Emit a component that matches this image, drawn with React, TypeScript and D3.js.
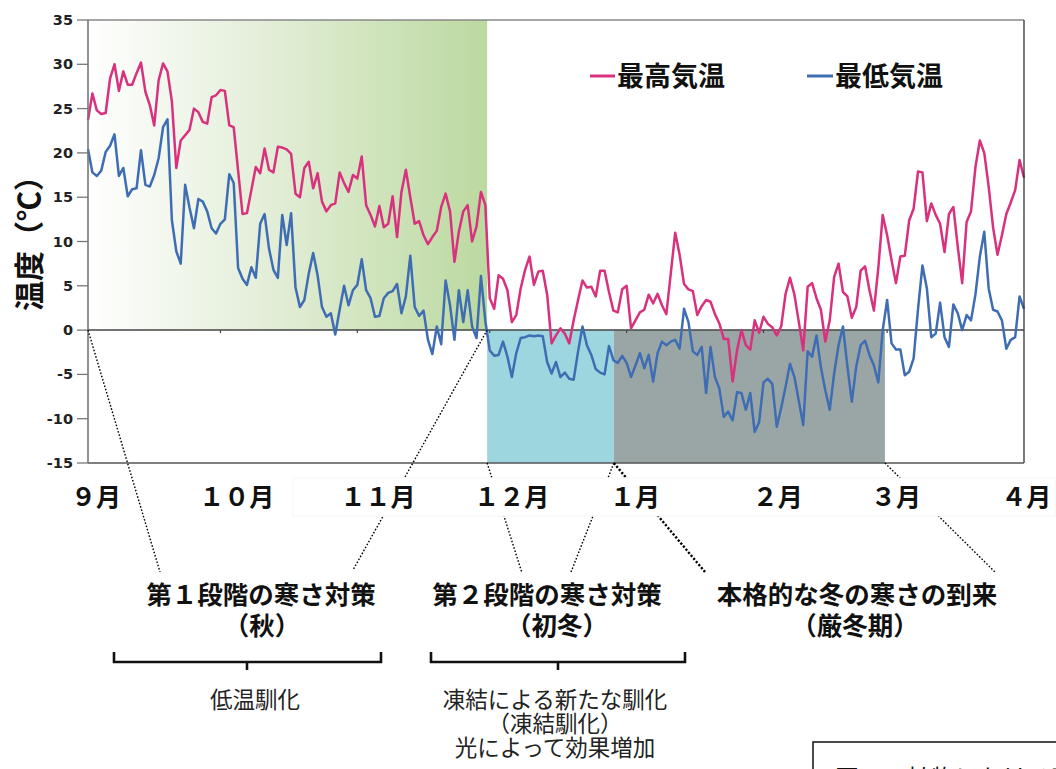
import React from "react";
import * as d3 from "d3";

// ---- data (daily, Sep 1 = day 0 .. Apr 1 = day 212) ----
const maxTemp: number[] = [
  23.7, 26.7, 24.8, 24.4, 24.5, 28.4, 30, 27, 29.2, 27.7, 27.7, 29, 30.2, 26.9, 25.4, 23.1, 28.2, 30.1, 29.2, 25.8,
  18.3, 21.4, 22, 22.6, 25, 24.6, 23.5, 23.3, 26.3, 26.5, 27.1, 27, 23.1, 22.9, 18, 13.1, 13.2, 15.8, 18.4, 17.7,
  20.5, 18.1, 17.8, 20.7, 20.6, 20.4, 19.9, 15.4, 15, 18.3, 19, 16, 17.7, 14.5, 13.4, 14.1, 14.3, 17.8, 16.6, 15.6,
  17.5, 17.1, 19.6, 14.1, 13, 11.7, 14, 11.6, 12, 15.1, 10.5, 15.6, 18.1,
  15, 12.0, 12.3, 10.7, 9.7, 10.5, 11.2, 13.9, 15.4, 13.4, 7.7, 11.1, 13.4, 14.1, 10, 11.7, 15.6, 14.1, 3.6, 2.4,
  6.2, 5.8, 4.5, 0.9, 1.7, 4.7, 6.8, 8.3, 5.1, 6.6, 6.7, 4, -1.5, -0.6, 0.2, -0.4, -1.5, 1.1, 3.4, 5.6,
  4.8, 4.9, 3.8, 6.7, 6.7, 4.3, 2.2, 2, 4.6, 5, 0.2, 1.1, 2, 2.3, 4, 3, 4.1, 2.8, 1.8, 6.4,
  11, 8.5, 5.2, 4.6, 4.4, 1.7, 2.7,
  3.4, 3.2, 1.8, 0.75, -1.0, -1.0, -5.8, -2.3, 0, -1.7, -2.2, 1.1, -0.3, 1.5, 0.7, 0.3, -0.6, 0.4, 4.1, 5.9,
  4.0, 0.9, -2.3, 4.9, 5.3, 3.6, 2.3, -1.3, 1.1, 6.0, 7.5, 4.3, 3.8, 1.4, 2.6, 6.7, 7.2, 4.5, 2.2, 7.0,
  13.0, 10.7, 7.9, 5.3, 8.3, 8.4, 12.4, 13.7, 17.9, 17.8, 12.3, 14.3, 13.0, 12.0, 8.8, 13.1, 13.9, 9.4, 5.3, 12.2,
  13.4, 18.4, 21.4, 20.0, 16.2, 11.6, 8.5, 10.7, 13.1, 14.4, 15.8, 19.2, 17.2,
];

const minTemp: number[] = [
  20.4, 17.8, 17.4, 18, 20.1, 20.8, 22.1, 17.4, 18.3, 15.1, 15.9, 16, 20.3, 16.4, 16.2, 17.5, 19.4, 22.9, 23.8, 12.4,
  8.9, 7.5, 16.4, 13.8, 11.5, 14.8, 14.5, 13.4, 11.5, 10.9, 12, 12.5, 17.6, 16.6, 7, 5.8, 5.1, 7.1, 5.9, 12,
  13.1, 9.2, 6.8, 5.9, 13, 9.6, 13.2, 4.8, 2.6, 3.4, 6.4, 8.7, 6.2, 2.6, 1.5, 1.9, -0.5, 2.3, 5, 2.8,
  4.5, 5.1, 8, 4.5, 3.6, 1.5, 1.6, 3.6, 4.2, 4.4, 5.2, 1.9, 3.8,
  8.4, 2.6, 1.6, 2.2, -1.1, -2.7, 0.4, -1.6, 5.6, 2.8, -1.1, 4.5, 0.9, 4.5, 0.4, -0.9, 6.1, 1.0, -2.3, -2.9,
  -2.8, -1.3, -3.0, -5.3, -2.6, -0.9, -0.8, -0.6, -0.7, -0.6, -0.7, -3.6, -4.9, -3.6, -5.3, -4.8, -5.5, -5.6, -2.4, 0.4,
  -1.7, -2.8, -4.4, -4.8, -5.0, -1.8, -3.4, -3.7, -2.9, -3.7, -5.3, -4.0, -2.6, -4.3, -2.8, -5.8, -2.6, -1.3, -1.7, -1.3,
  -1.1, -2.1, 2.4, 0.9, -2.4, -2.8, -1.9,
  -7.1, -1.9, -5.3, -6.6, -9.8, -9.2, -10.2, -7.0, -7.1, -9.0, -7.1, -11.5, -10.4, -5.9, -5.5, -6.1, -10.9, -8.8, -6.4, -3.8,
  -5.3, -8.0, -10.7, -2.4, -3.0, -0.6, -4.2, -6.8, -9.0, -4.9, -1.7, 0.4, -4.1, -8.1, -4.1, -1.7, -1.2, -2.8, -4.0, -5.9,
  0, 3.4, -1.5, -2.2, -2.2, -5.1, -4.7, -3.2, 2.4, 7.3, 4.7, -0.8, -0.4, 3.1, -0.8, -1.9, 2.9, 1.9, 0, 1.7,
  1.1, 4.0, 8.3, 11.1, 4.7, 2.3, 2.1, 1.1, -2.1, -1.1, -0.8, 3.8, 2.4,
];

const yTicks: number[] = [-15, -10, -5, 0, 5, 10, 15, 20, 25, 30, 35];
const monthTickDays: number[] = [0, 30, 61, 91, 122, 153, 181, 212];
const monthLabels: string[] = ["９月", "１０月", "１１月", "１２月", "１月", "２月", "３月", "４月"];
const monthLabelDays: number[] = [1.8, 33.7, 65.7, 96, 123.9, 156.2, 183, 212.5];
const seriesNames: string[] = ["最高気温", "最低気温"];

// phase boundaries (day index)
const phaseAutumn: [number, number] = [0, 90.4];
const phaseEarly: [number, number] = [90.4, 119.1];
const phaseWinter: [number, number] = [119.1, 180.5];

const annTitles: string[] = ["第１段階の寒さ対策", "第２段階の寒さ対策", "本格的な冬の寒さの到来"];
const annSubs: string[] = ["（秋）", "（初冬）", "（厳冬期）"];
const noteAutumn: string[] = ["低温馴化"];
const noteEarly: string[] = ["凍結による新たな馴化", "（凍結馴化）", "光によって効果増加"];
const captionText = "図２　植物における寒さ対策";

const W = 1056;
const H = 769;
const PINK = "#d8317e";
const BLUE = "#3f6db4";
const JP = '"Noto Sans CJK JP", "Noto Sans", sans-serif';

export default function App() {
  const x = d3.scaleLinear().domain([0, 212]).range([88, 1024]);
  const y = d3.scaleLinear().domain([-15, 35]).range([463, 20]);
  const line = d3
    .line<number>()
    .x((_, i) => x(i))
    .y((d) => y(d));

  const dotted = (x1: number, y1: number, x2: number, y2: number, w = 1.4, dash = "1.6,1.8") => (
    <line x1={x1} y1={y1} x2={x2} y2={y2} stroke="#000" strokeWidth={w} strokeDasharray={dash} />
  );

  const bracket = (x1: number, x2: number, xm: number) => (
    <path
      d={`M${x1},652 L${x1},662 L${x2},662 L${x2},652 M${xm},662 L${xm},670`}
      fill="none"
      stroke="#111"
      strokeWidth={2.6}
    />
  );

  return (
    <svg width={W} height={H} style={{ position: "absolute", left: 0, top: 0, background: "#fff" }}>
      <defs>
        <linearGradient id="autumnGrad" x1="0" x2="1" y1="0" y2="0">
          <stop offset="0%" stopColor="#ffffff" />
          <stop offset="45%" stopColor="#e3eed8" />
          <stop offset="100%" stopColor="#bcd9a0" />
        </linearGradient>
      </defs>

      {/* phase regions */}
      <rect
        x={x(phaseAutumn[0])}
        y={y(35)}
        width={x(phaseAutumn[1]) - x(phaseAutumn[0])}
        height={y(0) - y(35)}
        fill="url(#autumnGrad)"
      />
      <rect
        x={x(phaseEarly[0])}
        y={y(0)}
        width={x(phaseEarly[1]) - x(phaseEarly[0])}
        height={y(-15) - y(0)}
        fill="#9dd6df"
      />
      <rect
        x={x(phaseWinter[0])}
        y={y(0)}
        width={x(phaseWinter[1]) - x(phaseWinter[0])}
        height={y(-15) - y(0)}
        fill="#9aa6a6"
      />

      {/* zero line + ticks */}
      <line x1={x(0)} x2={x(212)} y1={y(0)} y2={y(0)} stroke="#444" strokeWidth={1.5} />
      {monthTickDays.slice(1, -1).map((d) => (
        <line key={d} x1={x(d)} x2={x(d)} y1={y(0)} y2={y(0) + 3} stroke="#444" strokeWidth={1.2} />
      ))}

      {/* series */}
      <path d={line(maxTemp) || ""} fill="none" stroke={PINK} strokeWidth={2.5} strokeLinejoin="round" />
      <path d={line(minTemp) || ""} fill="none" stroke={BLUE} strokeWidth={2.5} strokeLinejoin="round" />

      {/* frame */}
      <line x1={x(0)} x2={x(212)} y1={y(35)} y2={y(35)} stroke="#888" strokeWidth={1.5} />
      <line x1={x(212)} x2={x(212)} y1={y(35)} y2={y(-15)} stroke="#333" strokeWidth={1.3} />
      <line x1={x(0)} x2={x(212)} y1={y(-15)} y2={y(-15)} stroke="#555" strokeWidth={1.3} />
      <line x1={x(0)} x2={x(0)} y1={y(35)} y2={y(-15)} stroke="#777" strokeWidth={1.6} />

      {/* y axis ticks */}
      {yTicks.map((t) => (
        <g key={t}>
          <line x1={77} x2={x(0)} y1={y(t)} y2={y(t)} stroke="#777" strokeWidth={1.3} />
          <text
            x={73}
            y={y(t) + 5}
            textAnchor="end"
            fontFamily='"DejaVu Sans", sans-serif'
            fontWeight="bold"
            fontSize={14.5}
            fill="#222"
          >
            {t}
          </text>
        </g>
      ))}

      {/* y title */}
      <text
        transform="translate(40,236) rotate(-90)"
        textAnchor="middle"
        fontFamily={JP}
        fontWeight="bold"
        fontSize={30}
        fill="#111"
      >
        温度（℃）
      </text>

      {/* legend */}
      <line x1={590} x2={615} y1={76} y2={76} stroke={PINK} strokeWidth={3} />
      <text x={617} y={86} fontFamily={JP} fontWeight="bold" fontSize={27} fill="#111">
        {seriesNames[0]}
      </text>
      <line x1={807} x2={833} y1={76} y2={76} stroke={BLUE} strokeWidth={3} />
      <text x={835} y={86} fontFamily={JP} fontWeight="bold" fontSize={27} fill="#111">
        {seriesNames[1]}
      </text>

      {/* dotted connectors */}
      {dotted(x(0), y(0), 160, 572)}
      {dotted(x(phaseAutumn[1]), y(0), 353, 570)}
      {dotted(x(phaseEarly[0]), y(-15), 522, 573)}
      {dotted(x(phaseEarly[1]), y(-15), 571, 572)}
      {dotted(x(phaseWinter[0]), y(-15), 705, 572, 2.4, "2.2,1.8")}
      {dotted(x(phaseWinter[1]), y(-15), 996, 573)}

      {/* month label backdrop */}
      <rect x={293} y={478} width={762} height={38} fill="#fff" stroke="#f6f6f6" strokeWidth={1} />

      {/* month labels */}
      {monthLabels.map((m, i) => (
        <text
          key={m}
          x={x(monthLabelDays[i])}
          y={506}
          textAnchor="middle"
          fontFamily={JP}
          fontWeight="bold"
          fontSize={25}
          fill="#111"
        >
          {m}
        </text>
      ))}

      {/* annotation titles */}
      {[261, 547, 857].map((cx, i) => (
        <g key={i}>
          <text x={cx} y={604} textAnchor="middle" fontFamily={JP} fontWeight="bold" fontSize={25.5} fill="#111">
            {annTitles[i]}
          </text>
          <text
            x={[262, 557, 855][i]}
            y={635}
            textAnchor="middle"
            fontFamily={JP}
            fontWeight="bold"
            fontSize={25.5}
            fill="#111"
          >
            {annSubs[i]}
          </text>
        </g>
      ))}

      {bracket(114, 381, 247)}
      {bracket(431, 685, 558)}

      {noteAutumn.map((t, i) => (
        <text key={t} x={255} y={708 + i * 24} textAnchor="middle" fontFamily={JP} fontSize={22.5} fill="#222">
          {t}
        </text>
      ))}
      {noteEarly.map((t, i) => (
        <text key={t} x={555} y={708 + i * 24} textAnchor="middle" fontFamily={JP} fontSize={22.5} fill="#222">
          {t}
        </text>
      ))}

      {/* caption box (cut off at the page edge) */}
      <rect x={813} y={742} width={260} height={60} fill="#fff" stroke="#111" strokeWidth={1.5} />
      <text x={835} y={787} fontFamily={JP} fontSize={24} fill="#111">
        {captionText}
      </text>
    </svg>
  );
}
